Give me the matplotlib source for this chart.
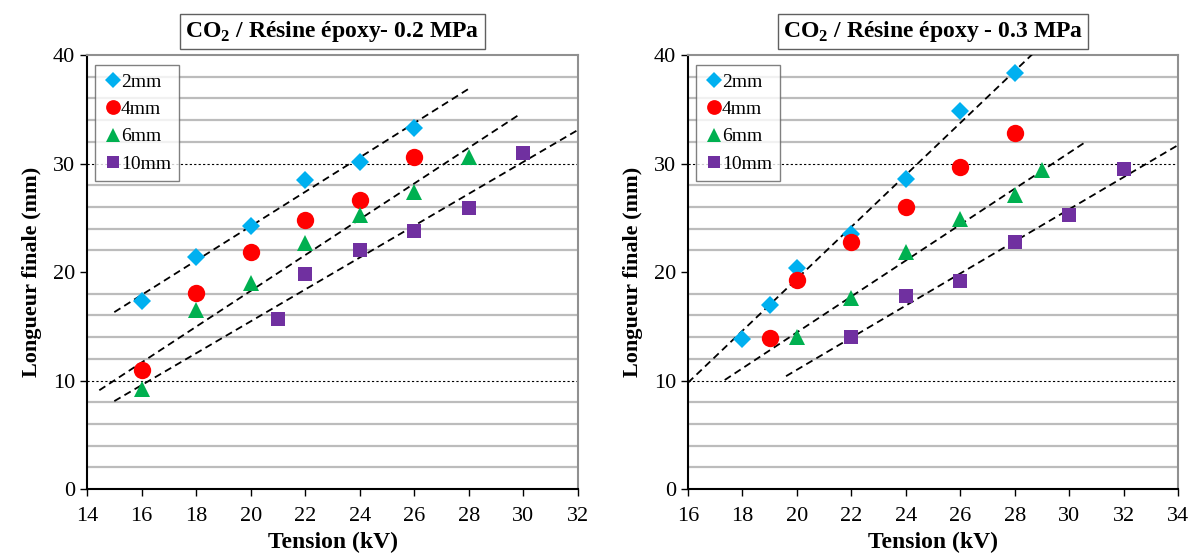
import matplotlib.pyplot as plt

plt.rcParams["font.family"] = ["Liberation Serif", "DejaVu Serif"]
plt.rcParams["mathtext.fontset"] = "custom"
plt.rcParams["mathtext.rm"] = "Liberation Serif"
plt.rcParams["mathtext.bf"] = "Liberation Serif:bold"

SERIES = ["2mm", "4mm", "6mm", "10mm"]
MARKERS = {"2mm": "D", "4mm": "o", "6mm": "^", "10mm": "s"}
COLORS = {"2mm": "#00b0f0", "4mm": "#ff0000", "6mm": "#00b050", "10mm": "#7030a0"}
SIZES = {"2mm": 9, "4mm": 12.5, "6mm": 11.5, "10mm": 10}

# 0.2 MPa
left_x = {
    "2mm": [16, 18, 20, 22, 24, 26],
    "4mm": [16, 18, 20, 22, 24, 26],
    "6mm": [16, 18, 20, 22, 24, 26, 28],
    "10mm": [21, 22, 24, 26, 28, 30],
}
left_y = {
    "2mm": [17.3, 21.4, 24.2, 28.5, 30.1, 33.3],
    "4mm": [11.0, 18.1, 21.8, 24.8, 26.6, 30.6],
    "6mm": [9.2, 16.5, 19.0, 22.7, 25.3, 27.4, 30.6],
    "10mm": [15.7, 19.8, 22.0, 23.8, 25.9, 31.0],
}
left_trend_x = [[15.0, 28.0], [14.45, 29.9], [15.0, 32.0]]
left_trend_y = [[16.3, 36.9], [9.1, 34.6], [8.1, 33.1]]

# 0.3 MPa
right_x = {
    "2mm": [18, 19, 20, 22, 24, 26, 28],
    "4mm": [19, 20, 22, 24, 26, 28],
    "6mm": [20, 22, 24, 26, 28, 29],
    "10mm": [22, 24, 26, 28, 30, 32],
}
right_y = {
    "2mm": [13.8, 17.0, 20.4, 23.5, 28.6, 34.8, 38.3],
    "4mm": [13.9, 19.3, 22.8, 26.0, 29.7, 32.8],
    "6mm": [14.0, 17.6, 21.8, 24.9, 27.1, 29.4],
    "10mm": [14.0, 17.8, 19.2, 22.8, 25.3, 29.5],
}
right_trend_x = [[16.0, 28.7], [17.35, 30.55], [19.6, 34.0]]
right_trend_y = [[9.8, 40.2], [10.05, 31.9], [10.4, 31.7]]


def draw_panel(axis, xs, ys, trend_x, trend_y, xlim, title):
    for level in range(2, 40, 2):
        if level == 10 or level == 30:
            axis.axhline(level, color="black", linestyle=(0, (2, 2)), linewidth=0.8, zorder=1)
        elif level != 20:
            axis.axhline(level, color="#bcbcbc", linewidth=1.6, zorder=1)
    for tx, ty in zip(trend_x, trend_y):
        axis.plot(tx, ty, color="black", linestyle=(0, (4, 2.5)), linewidth=1.3, zorder=3)
    for name in SERIES:
        axis.plot(xs[name], ys[name], linestyle="none", marker=MARKERS[name], color=COLORS[name],
                  markersize=SIZES[name], markeredgewidth=0, label=name, zorder=4)
    axis.set_xlim(*xlim)
    axis.set_ylim(0, 40)
    axis.set_xticks(range(xlim[0], xlim[1] + 1, 2))
    axis.set_yticks([0, 10, 20, 30, 40])
    axis.tick_params(direction="out", length=5, labelsize=16, width=1)
    axis.tick_params(axis="x", pad=8)
    axis.spines["left"].set_linewidth(1.5)
    axis.spines["bottom"].set_linewidth(1.5)
    axis.spines["top"].set_color("#909090")
    axis.spines["right"].set_color("#909090")
    axis.spines["top"].set_linewidth(1.5)
    axis.spines["right"].set_linewidth(1.5)
    axis.set_xlabel("Tension (kV)", fontsize=17, fontweight="bold", labelpad=4)
    axis.set_ylabel("Longueur finale (mm)", fontsize=16, fontweight="bold", labelpad=8)
    axis.set_title(title, fontsize=17, fontweight="bold", pad=13,
                   bbox=dict(boxstyle="square,pad=0.22", facecolor="white", edgecolor="#606060", linewidth=1))
    legend = axis.legend(loc="upper left", bbox_to_anchor=(0.008, 0.985), fontsize=14, frameon=True,
                         fancybox=False, handletextpad=-0.15, handlelength=1.1, labelspacing=0.5,
                         borderpad=0.4, markerscale=0.85, borderaxespad=0.2)
    legend.get_frame().set_edgecolor("#606060")
    legend.get_frame().set_linewidth(1)


fig = plt.figure(figsize=(12.02, 5.59), dpi=100)
ax_left = fig.add_axes([0.0724, 0.1252, 0.4085, 0.7764])
ax_right = fig.add_axes([0.5724, 0.1252, 0.4077, 0.7764])

draw_panel(ax_left, left_x, left_y, left_trend_x, left_trend_y, (14, 32),
           r"CO$_\mathbf{2}$ / Résine époxy- 0.2 MPa")
draw_panel(ax_right, right_x, right_y, right_trend_x, right_trend_y, (16, 34),
           r"CO$_\mathbf{2}$ / Résine époxy - 0.3 MPa")

fig.savefig("out.png", dpi=100)
